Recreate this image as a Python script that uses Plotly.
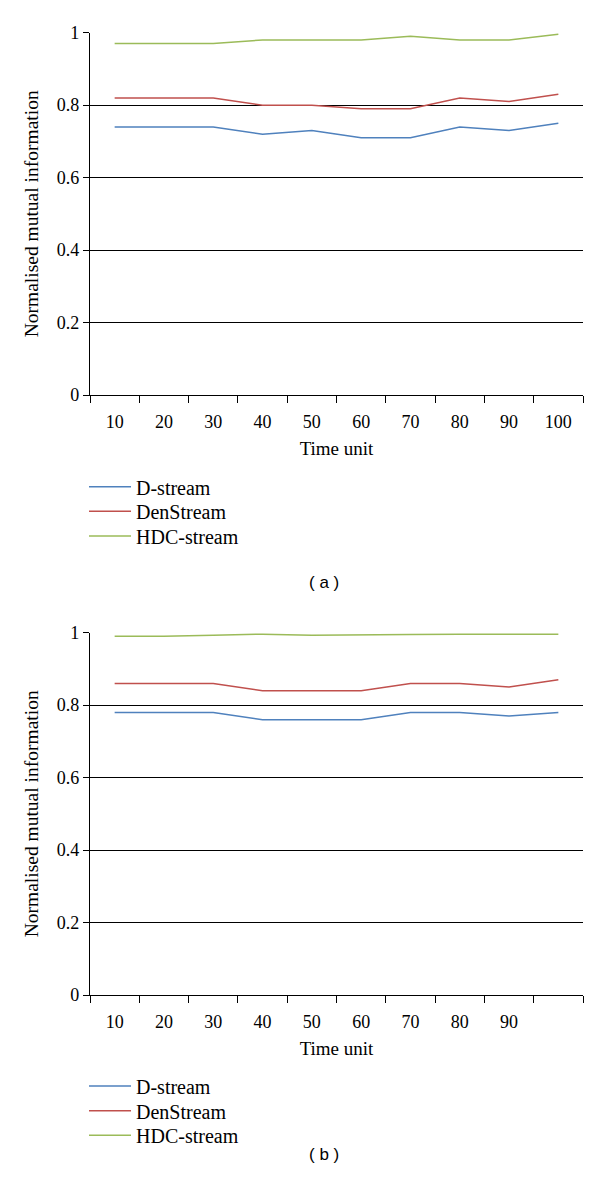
import plotly.graph_objects as go

time_units = [10, 20, 30, 40, 50, 60, 70, 80, 90, 100]
labels_a = ["10", "20", "30", "40", "50", "60", "70", "80", "90", "100"]
labels_b = ["10", "20", "30", "40", "50", "60", "70", "80", "90", ""]

a_dstream = [0.74, 0.74, 0.74, 0.72, 0.73, 0.71, 0.71, 0.74, 0.73, 0.75]
a_denstream = [0.82, 0.82, 0.82, 0.80, 0.80, 0.79, 0.79, 0.82, 0.81, 0.83]
a_hdc = [0.97, 0.97, 0.97, 0.98, 0.98, 0.98, 0.99, 0.98, 0.98, 0.996]

b_dstream = [0.78, 0.78, 0.78, 0.76, 0.76, 0.76, 0.78, 0.78, 0.77, 0.78]
b_denstream = [0.86, 0.86, 0.86, 0.84, 0.84, 0.84, 0.86, 0.86, 0.85, 0.87]
b_hdc = [0.99, 0.99, 0.993, 0.996, 0.993, 0.993, 0.995, 0.996, 0.996, 0.996]

series_names = ["D-stream", "DenStream", "HDC-stream"]
colors = ["#4F81BD", "#C0504D", "#9BBB59"]

W, H = 600, 1198
OFF = 8  # browser body margin
SERIF = "Liberation Serif"
SANS = "Liberation Sans"


def px_x(p):
    return (p - OFF) / W


def px_y(p):
    return 1 - (p - OFF) / H


legend_rows_a = [486.7, 511.3, 536]
legend_rows_b = [1086, 1110.7, 1135.3]

fig = go.Figure()
legend_layout = {}
k = 1
for panel, (series, rows, xa, ya) in enumerate([
        ([a_dstream, a_denstream, a_hdc], legend_rows_a, "x", "y"),
        ([b_dstream, b_denstream, b_hdc], legend_rows_b, "x2", "y2")]):
    for name, ys, c, row in zip(series_names, series, colors, rows):
        lname = "legend" if k == 1 else f"legend{k}"
        fig.add_trace(go.Scatter(x=time_units, y=ys, mode="lines", name=name,
                                 line=dict(color=c, width=1.5), xaxis=xa, yaxis=ya,
                                 legend=lname))
        legend_layout[lname] = dict(
            x=px_x(84), y=px_y(row), xanchor="left", yanchor="middle",
            font=dict(family=SERIF, size=20, color="black"),
            bgcolor="rgba(0,0,0,0)", tracegroupgap=0, itemwidth=42,
            borderwidth=0)
        k += 1

x_dom = [px_x(90), px_x(583)]
ya_dom = [px_y(395), px_y(32.7)]
yb_dom = [px_y(995), px_y(632.7)]

boundaries = [t - 5 for t in time_units] + [time_units[-1] + 5]


def xaxis(labels, anchor):
    return dict(domain=x_dom, anchor=anchor, range=[5, 105], automargin=False,
                tickmode="array", tickvals=time_units, ticktext=labels,
                ticks="", showgrid=False, zeroline=False, ticklabelstandoff=10,
                showline=True, linecolor="black", linewidth=1.3,
                minor=dict(tickmode="array", tickvals=boundaries, ticks="outside",
                           ticklen=7, tickcolor="black", tickwidth=1.3, showgrid=False),
                tickfont=dict(family=SERIF, size=18, color="black"),
                title=dict(text="Time unit", font=dict(family=SERIF, size=19, color="black"),
                           standoff=10))


def yaxis(domain, anchor):
    return dict(domain=domain, anchor=anchor, range=[0, 1], tickmode="array",
                automargin=False,
                tickvals=[0, 0.2, 0.4, 0.6, 0.8, 1.0],
                ticktext=["0", "0.2", "0.4", "0.6", "0.8", "1"],
                ticks="outside", ticklen=6, tickcolor="black", tickwidth=1.3,
                showgrid=True, gridcolor="black", gridwidth=1.1, zeroline=False,
                showline=True, linecolor="black", linewidth=1.3,
                tickfont=dict(family=SERIF, size=18, color="black"),
                title=dict(text="Normalised mutual information",
                           font=dict(family=SERIF, size=19.5, color="black"), standoff=12))


fig.update_layout(
    width=W, height=H,
    template="none",
    margin=dict(l=0, r=0, t=0, b=0, autoexpand=False),
    paper_bgcolor="white", plot_bgcolor="white",
    xaxis=xaxis(labels_a, "y"),
    yaxis=yaxis(ya_dom, "x"),
    xaxis2=xaxis(labels_b, "y2"),
    yaxis2=yaxis(yb_dom, "x2"),
    showlegend=True,
    annotations=[
        dict(text="( a )", x=px_x(324), y=px_y(582), xref="paper", yref="paper",
             showarrow=False, font=dict(family=SANS, size=17, color="black")),
        dict(text="( b )", x=px_x(324), y=px_y(1166), xref="paper", yref="paper",
             showarrow=False, font=dict(family=SANS, size=17, color="black")),
    ],
    **legend_layout,
)

fig.write_html("out.html")
